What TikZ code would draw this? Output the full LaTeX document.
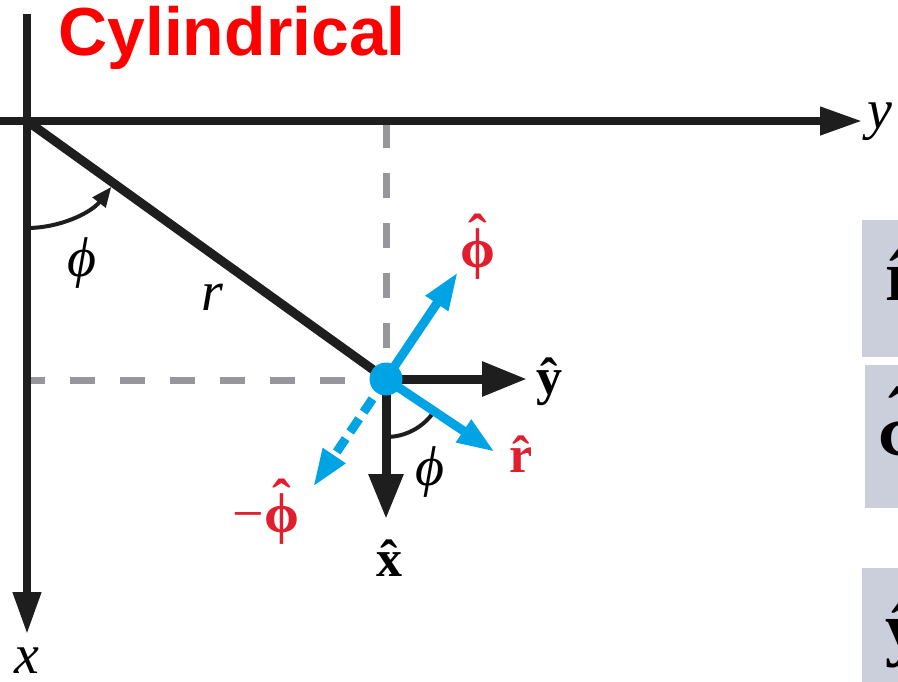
\documentclass[tikz,border=0pt]{standalone}
\usepackage{fontspec}
\setmainfont{Liberation Serif}
\newfontfamily\titlefont{Liberation Sans}
\usetikzlibrary{arrows.meta}
\definecolor{cyanb}{RGB}{0,163,228}
\definecolor{redlab}{RGB}{225,30,45}
\definecolor{titlered}{RGB}{255,0,0}
\definecolor{dashgrey}{RGB}{150,150,155}
\definecolor{boxgrey}{RGB}{203,207,220}
\definecolor{inkblack}{RGB}{30,30,30}
\newcommand\uvec[2][0pt]{\textbf{\setbox0\hbox{#2}\hbox to \wd0{\hss\raisebox{#1}{ˆ}\hss}\hskip-\wd0\box0}}
\begin{document}
\begin{tikzpicture}[x=1pt,y=-1pt,
  axisline/.style={line width=7.5pt, draw=inkblack, -{Triangle[length=42pt,width=27pt]}},
  unitblack/.style={line width=9pt, draw=inkblack, -{Triangle[length=45pt,width=33pt]}},
  unitblue/.style={line width=9pt, draw=cyanb, -{Triangle[length=38pt,width=25pt]}},
  guide/.style={line width=7pt, draw=dashgrey, dash pattern=on 25pt off 25pt},
  anglearc/.style={line width=4pt, draw=inkblack},
  lab/.style={inner sep=0pt, font=\fontsize{56}{60}\selectfont},
  blab/.style={inner sep=0pt, font=\fontsize{52}{56}\selectfont},
  boxlab/.style={inner sep=0pt, font=\fontsize{72}{76}\selectfont}]
\useasboundingbox (0,0) rectangle (898,681);

% title
\node[anchor=base west, inner sep=0pt, text=titlered,
      font=\titlefont\bfseries\fontsize{68}{70}\selectfont] (title) at (58,55) {Cylindrical};

% coordinates
\coordinate (O) at (27,121);
\coordinate (P) at (386,379);
\coordinate (xtop) at (27,14);
\coordinate (xtip) at (27,634);
\coordinate (yleft) at (0,121);
\coordinate (ytip) at (862,121);
\coordinate (vtop) at (386,123);
\coordinate (vbot) at (386,350);
\coordinate (hstart) at (345,380);
\coordinate (hend) at (27,380);
\coordinate (yhat) at (527,379);
\coordinate (xhat) at (386,519);
\coordinate (phihat) at (458,272);
\coordinate (rhat) at (495,452);
\coordinate (mphihat) at (313,487);

% grey side panels (cropped)
\fill[boxgrey] (862,220) rectangle (900,357);
\fill[boxgrey] (865,365) rectangle (900,508);
\fill[boxgrey] (862,568) rectangle (900,685);
\begin{scope}
  \clip (862,220) rectangle (898,357);
  \node[boxlab, anchor=base west] (br) at (885,300) {\uvec{r}};
\end{scope}
\begin{scope}
  \clip (865,365) rectangle (898,508);
  \node[boxlab, anchor=base west] (bphi) at (878,455) {\uvec[0.25em]{ϕ}};
\end{scope}
\begin{scope}
  \clip (862,568) rectangle (898,681);
  \node[boxlab, anchor=base west] (by) at (885,652) {\uvec{y}};
\end{scope}

% dashed guides
\draw[guide] (vtop) -- (vbot);
\draw[guide] (hstart) -- (hend);

% axes
\draw[axisline] (xtop) -- (xtip);
\draw[axisline] (yleft) -- (ytip);
\node[lab, anchor=base] (xlab) at (27,673) {\textit{x}};
\node[lab, anchor=base west] (ylab) at (867,128) {\textit{y}};

% radius line
\draw[line width=9pt, draw=inkblack] (O) -- (P);
\node[lab, anchor=base] (rlab) at (212,310) {\textit{r}};

% angle at origin
\draw[anglearc, -{Triangle[length=20pt,width=16pt]}] ([shift={(90:107)}]O) arc[start angle=90, end angle=38, radius=107];
\node[lab] (phiO) at (82,263) {\textit{ϕ}};

% unit vectors
\draw[unitblack] (P) -- (yhat);
\draw[unitblack] (P) -- (xhat);
\draw[anglearc] ([shift={(90:58)}]P) arc[start angle=90, end angle=34, radius=58];
\draw[unitblue] (P) -- (phihat);
\draw[unitblue] (P) -- (rhat);
\draw[unitblue, dash pattern=on 16pt off 8pt] (P) -- (mphihat);
\node[circle, fill=cyanb, inner sep=0pt, minimum size=33pt] (Pdot) at (P) {};

% labels
\node[blab] (ylabhat) at (549,382) {\uvec{y}};
\node[blab] (xlabhat) at (389,558) {\uvec{x}};
\node[blab, text=redlab, font=\fontsize{56}{60}\selectfont] (philab) at (478,247) {\uvec[0.25em]{ϕ}};
\node[blab, text=redlab] (rlabhat) at (521,454) {\uvec{r}};
\node[blab, text=redlab, font=\fontsize{56}{60}\selectfont] (mphilab) at (266,512) {−\uvec[0.25em]{ϕ}};
\node[lab] (phiP) at (430,472) {\textit{ϕ}};
\end{tikzpicture}
\end{document}
